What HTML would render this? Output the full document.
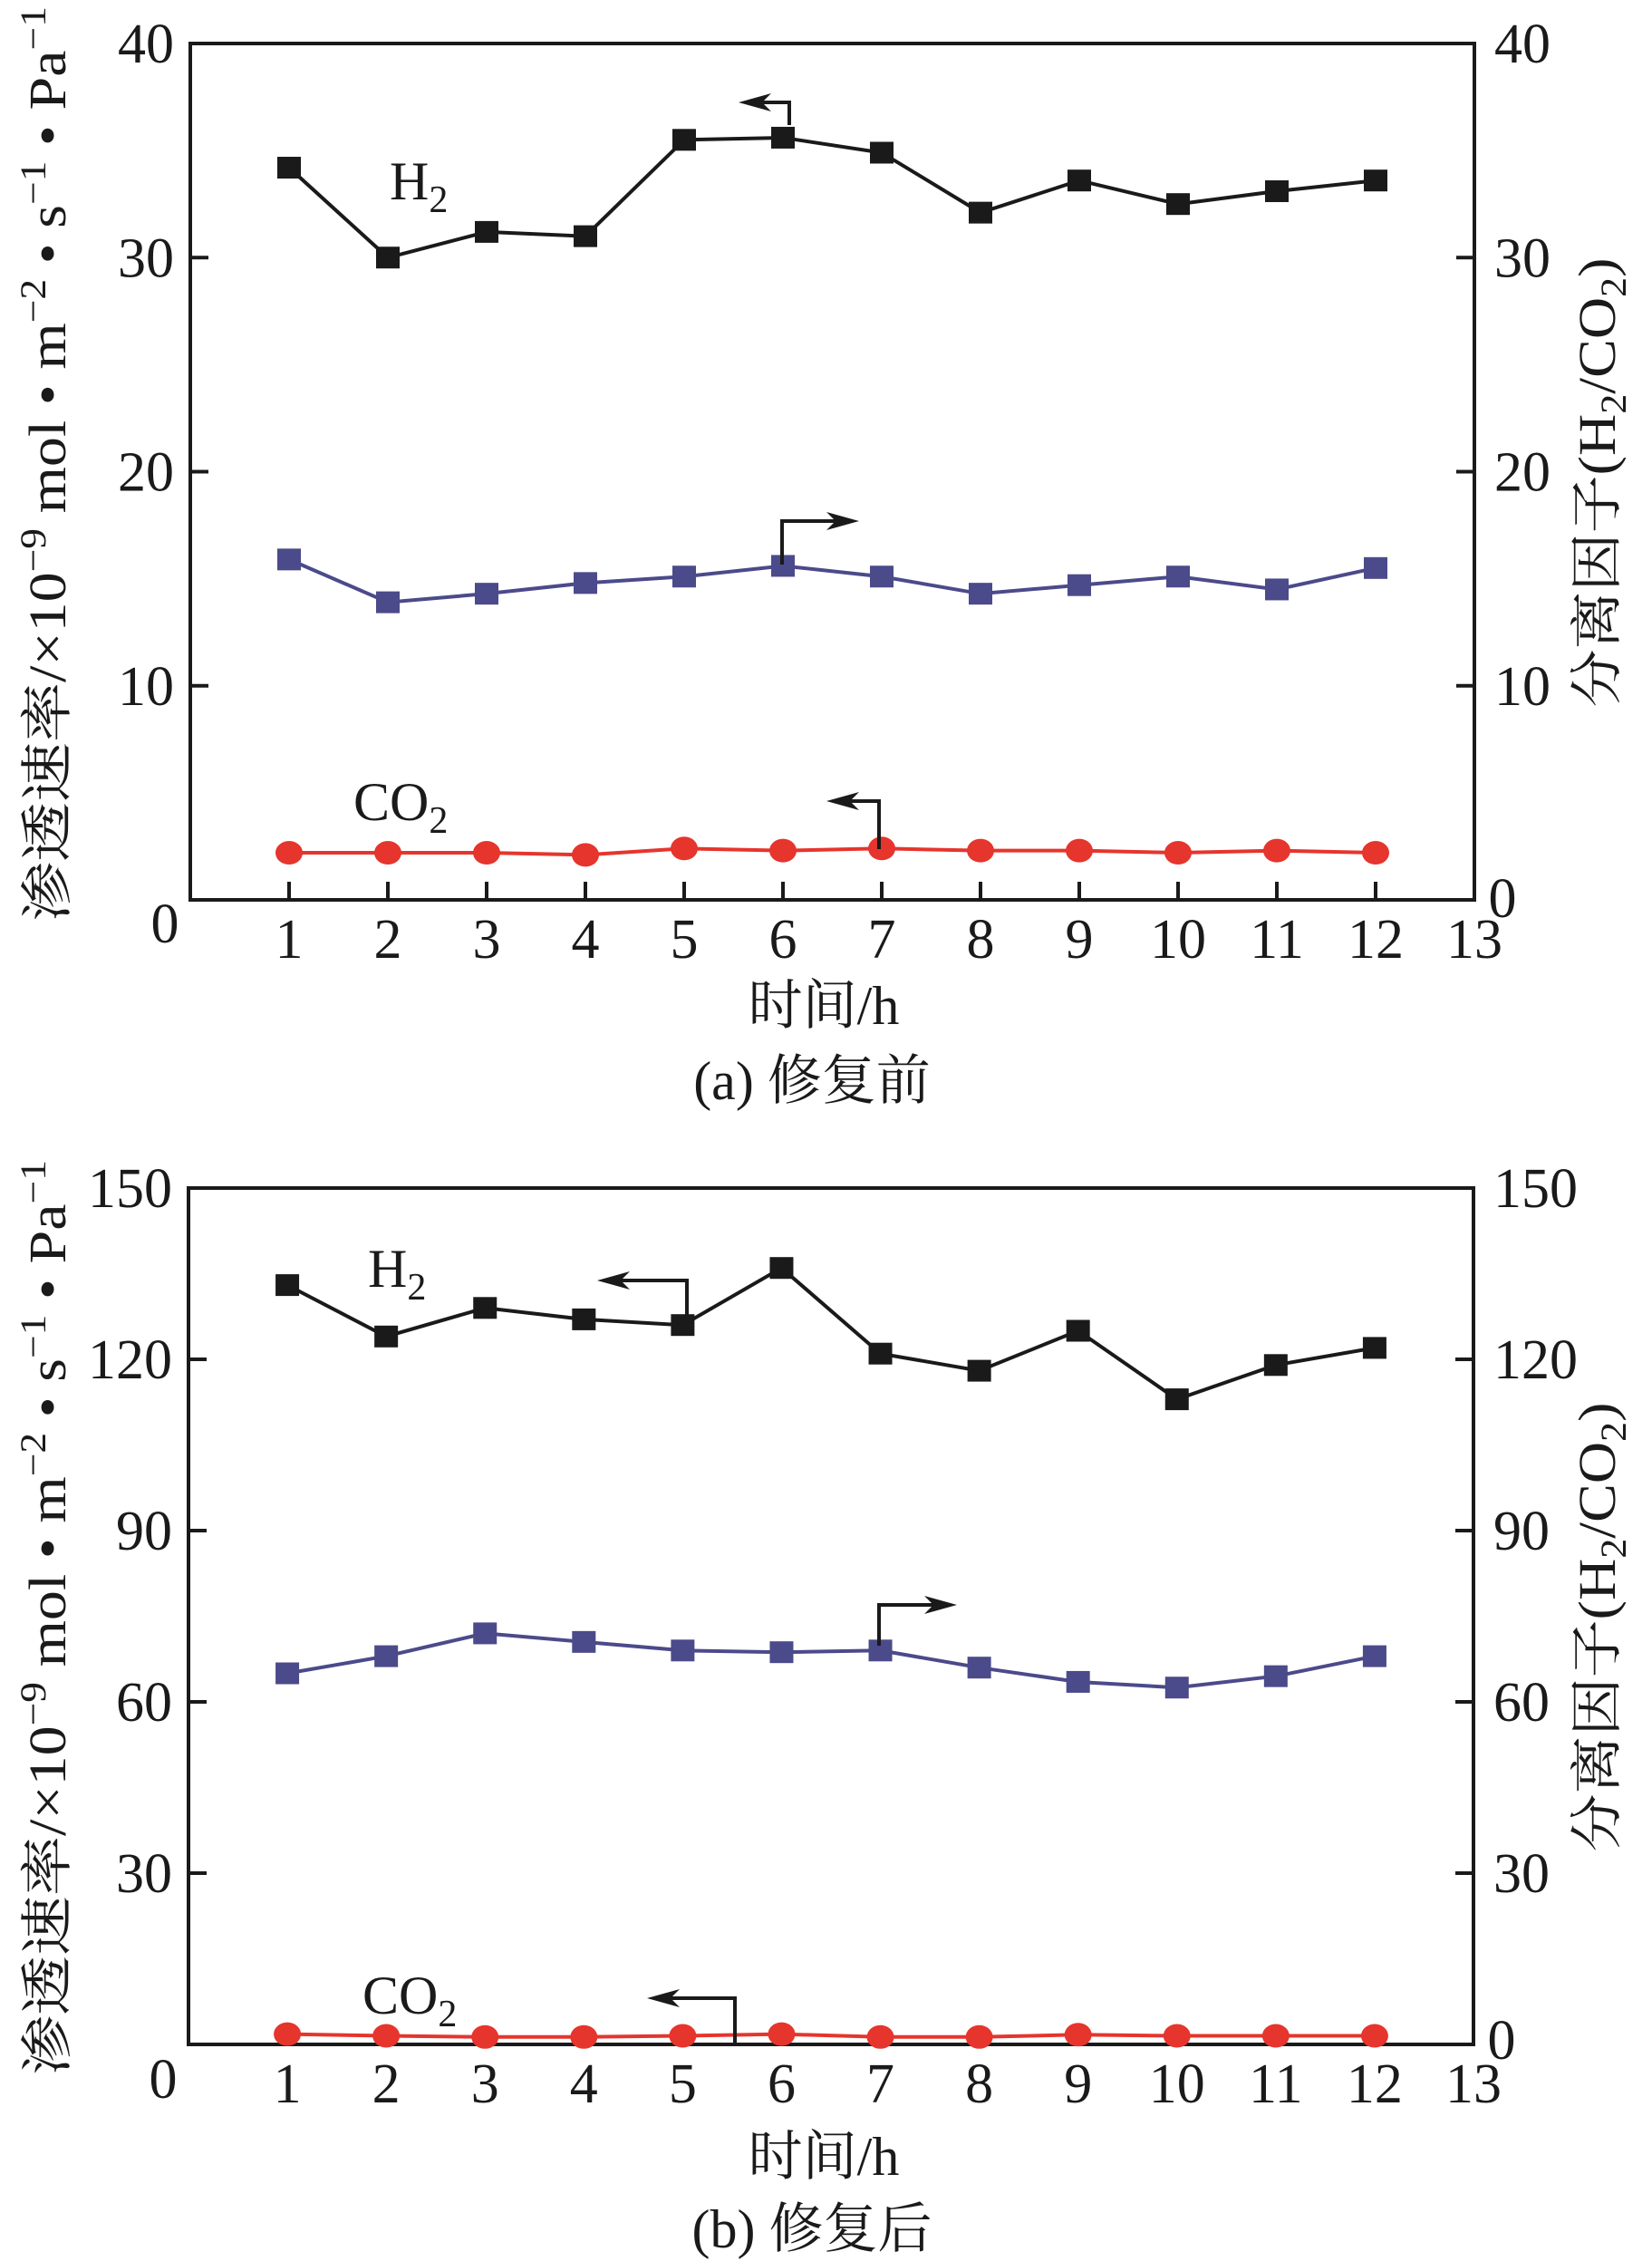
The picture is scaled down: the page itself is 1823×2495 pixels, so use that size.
<!DOCTYPE html>
<html><head><meta charset="utf-8"><style>
html,body{margin:0;padding:0;background:#fff;}
svg{display:block;}
text{font-family:"Liberation Serif","Noto Serif CJK SC","Noto Sans CJK SC",serif;fill:#1a1a1a;}
</style></head><body>
<svg id="fig" width="1823" height="2495" viewBox="0 0 1823 2495" xmlns="http://www.w3.org/2000/svg"></svg>
<script>
const hours = [1,2,3,4,5,6,7,8,9,10,11,12];
const xTicks = [1,2,3,4,5,6,7,8,9,10,11,12,13];
const h2A = [34.2,30.0,31.2,31.0,35.5,35.6,34.9,32.1,33.6,32.5,33.1,33.6];
const selA = [15.9,13.9,14.3,14.8,15.1,15.6,15.1,14.3,14.7,15.1,14.5,15.5];
const co2A = [2.2,2.2,2.2,2.1,2.4,2.3,2.4,2.3,2.3,2.2,2.3,2.2];
const yTicksA = [10,20,30,40];
const h2B = [133,124,129,127,126,136,121,118,125,113,119,122];
const selB = [65,68,72,70.5,69,68.7,69,66,63.5,62.5,64.5,68];
const co2B = [1.8,1.5,1.3,1.3,1.5,1.8,1.3,1.3,1.7,1.5,1.5,1.5];
const yTicksB = [30,60,90,120,150];

const NS='http://www.w3.org/2000/svg';
const svg=document.getElementById('fig');
function el(tag,attrs,parent){const e=document.createElementNS(NS,tag);for(const k in attrs)e.setAttribute(k,attrs[k]);(parent||svg).appendChild(e);return e;}

function panel(cfg){
  const g=el('g',{});
  
  
  const L=cfg.left,R=cfg.right,T=cfg.top,B=cfg.bottom;
  const xs=v=>L+(R-L)*v/13;
  const ys=v=>B-(B-T)*v/cfg.ymax;
  const frame=el('rect',{x:L,y:T,width:R-L,height:B-T,fill:'none',stroke:'#1a1a1a','stroke-width':4},g);
  
  
  cfg.yTicks.forEach(v=>{
    const y=ys(v);
    if(v<cfg.ymax){
      const t1=el('line',{x1:L,y1:y,x2:L+20,y2:y,stroke:'#1a1a1a','stroke-width':4},g);
      
      
      const t2=el('line',{x1:R,y1:y,x2:R-20,y2:y,stroke:'#1a1a1a','stroke-width':4},g);
      
      
    }
    const lt=el('text',{x:L-18,y:y+21,'font-size':62,'text-anchor':'end'},g);lt.textContent=v;
    
    
    const rt=el('text',{x:R+22,y:y+21,'font-size':62,'text-anchor':'start'},g);rt.textContent=v;
    
    
  });
  const z1=el('text',{x:L-28,y:cfg.leftZeroY,'font-size':62,'text-anchor':'middle'},g);z1.textContent='0';
  
  
  const z2=el('text',{x:R+31,y:cfg.rightZeroY,'font-size':62,'text-anchor':'middle'},g);z2.textContent='0';
  
  
  xTicks.forEach(v=>{
    const x=xs(v);
    if(v<13){
      const t=el('line',{x1:x,y1:B,x2:x,y2:B-20,stroke:'#1a1a1a','stroke-width':4},g);
      
      
    }
    const tl=el('text',{x:x,y:B+64,'font-size':62,'text-anchor':'middle'},g);tl.textContent=v;
    
    
  });
  function series(vals,color,kind,name){
    const pts=hours.map((h,i)=>[xs(h),ys(vals[i])]);
    const pl=el('polyline',{points:pts.map(p=>p.join(',')).join(' '),fill:'none',stroke:color,'stroke-width':4},g);
    
    
    pts.forEach(p=>{
      let m;
      if(kind==='sq') m=el('rect',{x:p[0]-13,y:p[1]-12,width:26,height:24,fill:color},g);
      else m=el('ellipse',{cx:p[0],cy:p[1],rx:15,ry:13,fill:color},g);
      
      
    });
  }
  series(cfg.h2,'#1a1a1a','sq','h2-permeance');
  series(cfg.sel,'#4b4a8a','sq','selectivity');
  series(cfg.co2,'#e5352d','ci','co2-permeance');
  cfg.arrows.forEach(a=>{
    const ag=el('g',{},g);
    
    
    el('polyline',{points:`${a.x},${a.y1} ${a.x},${a.y2} ${a.tip+(a.tip<a.x?20:-20)},${a.y2}`,fill:'none',stroke:'#1a1a1a','stroke-width':4},ag);
    const d=a.tip<a.x?1:-1;
    el('polygon',{points:`${a.tip},${a.y2} ${a.tip+36*d},${a.y2-10} ${a.tip+26*d},${a.y2} ${a.tip+36*d},${a.y2+10}`,fill:'#1a1a1a'},ag);
  });
  const h=el('text',{x:cfg.h2Lab[0],y:cfg.h2Lab[1],'font-size':60},g);
  h.innerHTML='H<tspan font-size="42" dy="14">2</tspan>';
  
  
  const c=el('text',{x:cfg.co2Lab[0],y:cfg.co2Lab[1],'font-size':60},g);
  c.innerHTML='CO<tspan font-size="42" dy="14">2</tspan>';
  
  
  const cy=(T+B)/2;
  const lt=el('text',{x:0,y:0,'font-size':58,'text-anchor':'middle',textLength:cfg.ltLen,lengthAdjust:'spacingAndGlyphs',transform:`translate(72,${cfg.ltCy}) rotate(-90)`},g);
  lt.innerHTML='渗透速率/×10<tspan font-size="40" dy="-22">−9</tspan><tspan dy="22"> mol • m</tspan><tspan font-size="40" dy="-22">−2</tspan><tspan dy="22"> • s</tspan><tspan font-size="40" dy="-22">−1</tspan><tspan dy="22"> • Pa</tspan><tspan font-size="40" dy="-22">−1</tspan>';
  
  
  const rt=el('text',{x:0,y:0,'font-size':58,'text-anchor':'middle',textLength:496,lengthAdjust:'spacingAndGlyphs',transform:`translate(1782,${cy+12}) rotate(-90)`},g);
  rt.innerHTML='分离因子(H<tspan font-size="40" dy="12">2</tspan><tspan dy="-12">/CO</tspan><tspan font-size="40" dy="12">2</tspan><tspan dy="-12">)</tspan>';
  
  
  const xt=el('text',{x:909,y:cfg.xtY,'font-size':60,'text-anchor':'middle'},g);
  xt.textContent='时间/h';
  
  
  const cap=el('text',{x:896,y:cfg.capY,'font-size':60,'text-anchor':'middle'},g);
  cap.textContent=cfg.caption;
  
  
}

panel({name:'panel-a-before-repair',left:210,right:1627,top:48,bottom:993,ymax:40,yTicks:yTicksA,h2:h2A,sel:selA,co2:co2A,
  leftZeroY:1040,rightZeroY:1012,
  arrows:[{name:'h2-left-axis-arrow',x:871,y1:138,y2:113,tip:815},{name:'selectivity-right-axis-arrow',x:863,y1:623,y2:575,tip:948},{name:'co2-left-axis-arrow',x:970,y1:937,y2:884,tip:912}],
  h2Lab:[430,220],co2Lab:[390,905],ltLen:1010,ltCy:512,xtY:1130,capY:1213,caption:'(a) 修复前'});
panel({name:'panel-b-after-repair',left:208,right:1626,top:1311,bottom:2256,ymax:150,yTicks:yTicksB,h2:h2B,sel:selB,co2:co2B,
  leftZeroY:2315,rightZeroY:2272,
  arrows:[{name:'h2-left-axis-arrow',x:758,y1:1467,y2:1413,tip:659},{name:'selectivity-right-axis-arrow',x:970,y1:1816,y2:1771,tip:1056},{name:'co2-left-axis-arrow',x:811,y1:2254,y2:2205,tip:714}],
  h2Lab:[406,1420],co2Lab:[400,2222],ltLen:1010,ltCy:1785,xtY:2400,capY:2480,caption:'(b) 修复后'});
</script>
</body></html>
